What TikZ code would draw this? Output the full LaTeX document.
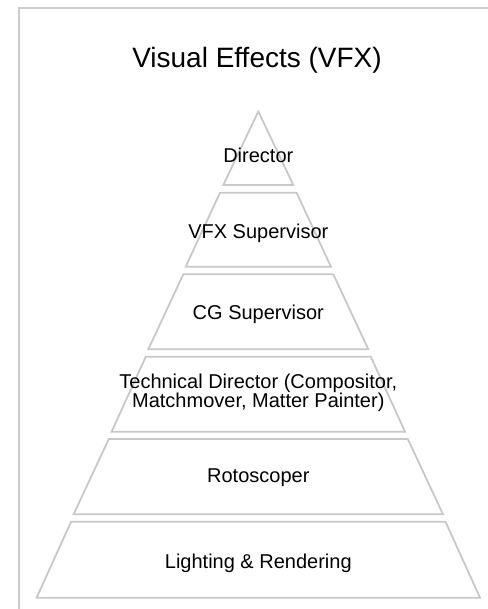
\documentclass[tikz,border=0pt]{standalone}
\usepackage{fontspec}
\setmainfont{Liberation Sans}
\definecolor{edgec}{HTML}{C8C8C8}
\definecolor{framec}{HTML}{CCCCCC}
\begin{document}
\begin{tikzpicture}[x=1pt,y=-1pt,
  layer/.style={draw=edgec,line width=1.8pt,line join=miter},
  framebox/.style={draw=framec,line width=2pt},
  lbl/.style={anchor=base,font=\fontsize{20}{17.5}\selectfont,align=center,inner sep=0pt,text=black},
  ttl/.style={anchor=base,font=\fontsize{28}{32}\selectfont,inner sep=0pt,text=black}]
\useasboundingbox (0,0) rectangle (487,609);
\fill[white] (0,0) rectangle (487,609);
% frame
\draw[framebox] (18.5,612) -- (18.5,8.5) -- (490,8.5);
% title
\node[ttl] (title) at (257,68) {Visual Effects (VFX)};
% layers
\def\cx{258.3}
\draw[layer] (\cx,111.5) -- (\cx+35,185) -- (\cx-35,185) -- cycle;
\draw[layer] (\cx-38.3,192.7) -- (\cx+38.3,192.7) -- (\cx+72.6,266.7) -- (\cx-72.6,266.7) -- cycle;
\draw[layer] (\cx-75,274.3) -- (\cx+75,274.3) -- (\cx+110,349.3) -- (\cx-110,349.3) -- cycle;
\draw[layer] (\cx-112.5,356.7) -- (\cx+112.5,356.7) -- (\cx+146.7,431.7) -- (\cx-146.7,431.7) -- cycle;
\draw[layer] (\cx-149.5,439) -- (\cx+149.5,439) -- (\cx+184.7,514.3) -- (\cx-184.7,514.3) -- cycle;
\draw[layer] (\cx-187.2,521.7) -- (\cx+187.2,521.7) -- (\cx+221.7,597.7) -- (\cx-221.7,597.7) -- cycle;
% labels
\node[lbl] (dir) at (\cx,162.3) {Director};
\node[lbl] (vfx) at (\cx,238) {VFX Supervisor};
\node[lbl] (cg) at (\cx,319.3) {CG Supervisor};
\node[lbl,anchor=north] (td) at (\cx,373.5) {Technical Director (Compositor,\\Matchmover, Matter Painter)};
\node[lbl] (roto) at (\cx,482.3) {Rotoscoper};
\node[lbl] (light) at (\cx,568.5) {Lighting \& Rendering};
\end{tikzpicture}
\end{document}
